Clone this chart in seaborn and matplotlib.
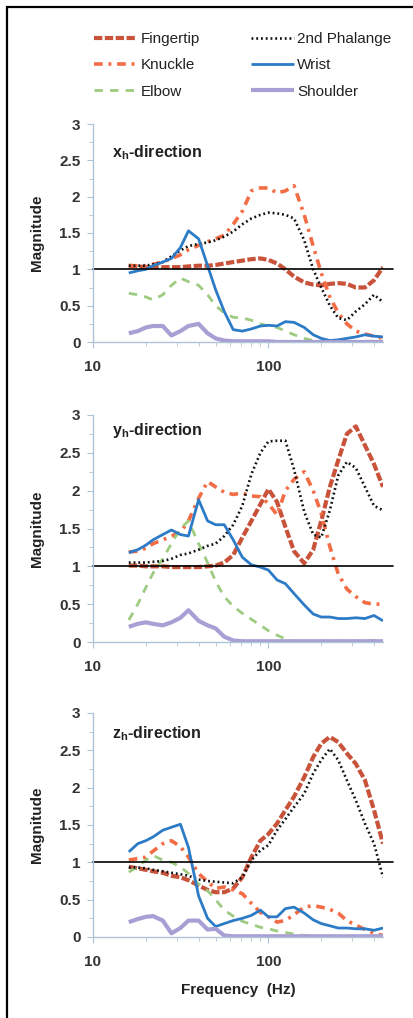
import numpy as np
import pandas as pd
import matplotlib
matplotlib.use('Agg')
import matplotlib.pyplot as plt
import seaborn as sns
from matplotlib.ticker import AutoMinorLocator, NullFormatter
from matplotlib.patches import Rectangle

# frequencies (Hz)
freq = [16, 18, 20, 22, 25, 28, 31.5, 35, 40, 45, 50, 56, 63, 71, 80, 90, 100,
        112, 125, 140, 160, 180, 200, 224, 250, 280, 315, 355, 400, 450]

# x_h-direction
x_fingertip = [1.05, 1.04, 1.03, 1.03, 1.03, 1.03, 1.03, 1.04, 1.05, 1.05, 1.06, 1.08, 1.10, 1.12, 1.14,
               1.15, 1.13, 1.08, 1.00, 0.90, 0.82, 0.79, 0.78, 0.80, 0.81, 0.80, 0.75, 0.75, 0.85, 1.03]
x_knuckle = [1.05, 1.05, 1.05, 1.07, 1.10, 1.15, 1.20, 1.27, 1.33, 1.38, 1.42, 1.47, 1.62, 1.80, 2.08,
             2.12, 2.12, 2.05, 2.08, 2.15, 1.75, 1.32, 0.95, 0.62, 0.40, 0.25, 0.15, 0.11, 0.08, 0.05]
x_elbow = [0.67, 0.65, 0.62, 0.58, 0.65, 0.78, 0.88, 0.83, 0.78, 0.65, 0.50, 0.40, 0.34, 0.33, 0.30,
           0.25, 0.22, 0.20, 0.15, 0.10, 0.05, 0.02, 0.01, 0.01, 0.01, 0.01, 0.01, 0.01, 0.01, 0.01]
x_phalange = [1.05, 1.05, 1.05, 1.07, 1.10, 1.18, 1.26, 1.32, 1.35, 1.37, 1.40, 1.45, 1.52, 1.62, 1.70,
              1.75, 1.78, 1.77, 1.75, 1.70, 1.40, 1.00, 0.75, 0.50, 0.33, 0.30, 0.42, 0.52, 0.65, 0.55]
x_wrist = [0.95, 0.98, 1.00, 1.05, 1.10, 1.15, 1.30, 1.53, 1.42, 1.05, 0.72, 0.42, 0.17, 0.15, 0.18,
           0.22, 0.23, 0.22, 0.28, 0.27, 0.20, 0.10, 0.05, 0.02, 0.03, 0.05, 0.07, 0.10, 0.08, 0.07]
x_shoulder = [0.12, 0.15, 0.20, 0.22, 0.22, 0.09, 0.15, 0.22, 0.25, 0.12, 0.05, 0.02, 0.01, 0.01, 0.01,
              0.01, 0.01, 0.0, 0.0, 0.0, 0.0, 0.0, 0.0, 0.0, 0.0, 0.0, 0.0, 0.0, 0.0, 0.0]

# y_h-direction
y_fingertip = [1.01, 1.01, 1.00, 1.00, 1.00, 0.99, 0.99, 0.99, 0.99, 1.00, 1.01, 1.05, 1.15, 1.38, 1.60,
               1.82, 2.02, 1.85, 1.52, 1.20, 1.04, 1.22, 1.60, 2.05, 2.40, 2.75, 2.85, 2.60, 2.35, 2.05]
y_knuckle = [1.19, 1.20, 1.24, 1.30, 1.35, 1.40, 1.45, 1.60, 1.90, 2.12, 2.05, 1.98, 1.95, 1.97, 1.93,
             1.92, 1.83, 1.68, 2.00, 2.15, 2.25, 2.00, 1.70, 1.26, 0.90, 0.70, 0.60, 0.52, 0.50, 0.50]
y_elbow = [0.29, 0.50, 0.72, 0.91, 1.10, 1.30, 1.50, 1.60, 1.30, 1.05, 0.80, 0.60, 0.47, 0.38, 0.30,
           0.22, 0.15, 0.09, 0.04, 0.01, 0.01, 0.01, 0.01, 0.01, 0.01, 0.01, 0.01, 0.02, 0.02, 0.01]
y_phalange = [1.05, 1.05, 1.05, 1.06, 1.07, 1.10, 1.15, 1.17, 1.22, 1.27, 1.30, 1.40, 1.55, 1.80, 2.22,
              2.50, 2.65, 2.66, 2.66, 2.28, 1.72, 1.42, 1.38, 1.74, 2.20, 2.38, 2.30, 2.05, 1.80, 1.74]
y_wrist = [1.18, 1.22, 1.28, 1.35, 1.42, 1.48, 1.42, 1.40, 1.88, 1.60, 1.55, 1.55, 1.35, 1.12, 1.02,
           0.99, 0.95, 0.82, 0.77, 0.64, 0.49, 0.37, 0.33, 0.33, 0.31, 0.31, 0.32, 0.31, 0.35, 0.28]
y_shoulder = [0.20, 0.24, 0.26, 0.24, 0.22, 0.26, 0.32, 0.42, 0.28, 0.22, 0.18, 0.07, 0.02, 0.01, 0.01,
              0.01, 0.01, 0.01, 0.01, 0.01, 0.01, 0.01, 0.01, 0.01, 0.01, 0.01, 0.01, 0.01, 0.01, 0.01]

# z_h-direction
z_fingertip = [0.94, 0.92, 0.90, 0.88, 0.86, 0.82, 0.80, 0.76, 0.69, 0.63, 0.60, 0.60, 0.65, 0.80, 1.07,
               1.29, 1.38, 1.52, 1.70, 1.88, 2.14, 2.41, 2.59, 2.68, 2.61, 2.46, 2.32, 2.10, 1.70, 1.25]
z_knuckle = [1.03, 1.05, 1.07, 1.15, 1.25, 1.29, 1.21, 1.07, 0.85, 0.74, 0.65, 0.67, 0.63, 0.58, 0.45,
             0.33, 0.27, 0.20, 0.22, 0.30, 0.40, 0.42, 0.40, 0.37, 0.32, 0.22, 0.16, 0.10, 0.05, 0.02]
z_elbow = [0.87, 0.94, 1.03, 1.09, 1.03, 1.00, 0.94, 0.85, 0.71, 0.62, 0.50, 0.36, 0.28, 0.21, 0.17,
           0.13, 0.11, 0.08, 0.06, 0.04, 0.02, 0.01, 0.01, 0.01, 0.01, 0.01, 0.01, 0.01, 0.01, 0.01]
z_phalange = [0.93, 0.93, 0.92, 0.90, 0.88, 0.86, 0.84, 0.82, 0.77, 0.75, 0.74, 0.73, 0.72, 0.80, 1.03,
              1.16, 1.23, 1.43, 1.58, 1.74, 1.92, 2.19, 2.37, 2.52, 2.37, 2.10, 1.83, 1.52, 1.25, 0.80]
z_wrist = [1.14, 1.25, 1.29, 1.34, 1.43, 1.47, 1.51, 1.20, 0.55, 0.25, 0.14, 0.18, 0.22, 0.25, 0.29,
           0.36, 0.27, 0.27, 0.38, 0.40, 0.32, 0.23, 0.18, 0.15, 0.12, 0.12, 0.11, 0.11, 0.09, 0.12]
z_shoulder = [0.20, 0.24, 0.27, 0.28, 0.22, 0.05, 0.12, 0.22, 0.22, 0.10, 0.11, 0.02, 0.01, 0.01, 0.01,
              0.01, 0.01, 0.01, 0.01, 0.01, 0.01, 0.01, 0.01, 0.01, 0.01, 0.01, 0.01, 0.01, 0.01, 0.01]

names = ['Fingertip', 'Knuckle', 'Elbow', '2nd Phalange', 'Wrist', 'Shoulder']
panels = [
    (r'$\mathbf{x_h}$-direction', [x_fingertip, x_knuckle, x_elbow, x_phalange, x_wrist, x_shoulder]),
    (r'$\mathbf{y_h}$-direction', [y_fingertip, y_knuckle, y_elbow, y_phalange, y_wrist, y_shoulder]),
    (r'$\mathbf{z_h}$-direction', [z_fingertip, z_knuckle, z_elbow, z_phalange, z_wrist, z_shoulder]),
]

styles = {
    'Fingertip': dict(color='#C9533A', lw=3.0, ls=(0, (2.0, 0.6))),
    'Knuckle': dict(color='#F26C45', lw=2.6, ls=(0, (2.4, 1.6, 0.8, 1.6))),
    'Elbow': dict(color='#9DCB80', lw=2.0, ls=(0, (3.0, 2.6))),
    '2nd Phalange': dict(color='#111111', lw=1.9, ls=(0, (0.7, 1.1))),
    'Wrist': dict(color='#2C7BC6', lw=2.0, ls='-'),
    'Shoulder': dict(color='#A8A0D4', lw=3.0, ls='-'),
}

sns.set_style('ticks')
plt.rcParams['font.family'] = ['Liberation Sans', 'DejaVu Sans']
plt.rcParams['mathtext.fontset'] = 'custom'
plt.rcParams['mathtext.bf'] = 'Liberation Sans:bold'
plt.rcParams['mathtext.rm'] = 'Liberation Sans'

axis_col = '#AFC3D6'
text_col = '#333333'

fig = plt.figure(figsize=(4.14, 10.18), dpi=100)
W, H = 414, 1018
boxes = [(124, 342), (415, 642), (713, 937)]
title_y = [0.87, 0.93, 0.91]

handles = []
for i, ((title, series), (top, bot)) in enumerate(zip(panels, boxes)):
    ax = fig.add_axes([93 / W, 1 - bot / H, 290 / W, (bot - top) / H])
    for name, vals in zip(names, series):
        st = styles[name]
        df = pd.DataFrame({'freq': freq, 'mag': vals})
        sns.lineplot(data=df, x='freq', y='mag', ax=ax, color=st['color'], lw=st['lw'],
                     linestyle=st['ls'], label=name, legend=False, solid_capstyle='butt',
                     dash_capstyle='butt')
    if i == 0:
        handles = ax.get_lines()[:6]
    ax.axhline(1, xmin=0, xmax=(393 - 93) / 290, color='black', lw=1.2, clip_on=False)
    ax.set_xscale('log')
    ax.set_xlim(10, 450)
    ax.set_ylim(0, 3)
    ax.set_xticks([10, 100], labels=['10', '100'])
    ax.xaxis.set_minor_formatter(NullFormatter())
    ax.set_yticks([0, 0.5, 1, 1.5, 2, 2.5, 3], labels=['0', '0.5', '1', '1.5', '2', '2.5', '3'])
    ax.yaxis.set_minor_locator(AutoMinorLocator(2))
    for s in ['top', 'right']:
        ax.spines[s].set_visible(False)
    for s in ['left', 'bottom']:
        ax.spines[s].set_color(axis_col)
        ax.spines[s].set_linewidth(1.0)
    ax.tick_params(axis='both', which='both', color=axis_col, labelcolor=text_col,
                   labelsize=11, direction='out')
    ax.tick_params(axis='y', which='major', length=4, pad=5)
    ax.tick_params(axis='y', which='minor', length=3)
    ax.tick_params(axis='x', which='major', length=4, pad=9)
    ax.tick_params(axis='x', which='minor', length=3)
    for lab in ax.get_xticklabels() + ax.get_yticklabels():
        lab.set_fontweight('bold')
    ax.set_xlabel('')
    ax.set_ylabel('Magnitude', fontsize=11, fontweight='bold', color='#222222', labelpad=11)
    ax.text(0.066, title_y[i], title, transform=ax.transAxes, fontsize=11.5,
            fontweight='bold', color='#222222', va='center', ha='left')
    if i == 2:
        ax.set_xlabel('Frequency  (Hz)', fontsize=11, fontweight='bold', color='#222222',
                      labelpad=10)

fig.legend(handles, names, ncol=2, loc='upper left', bbox_to_anchor=(0.195, 0.982),
           frameon=False, fontsize=11, handlelength=2.8, handletextpad=0.25,
           columnspacing=3.3, labelspacing=0.8, labelcolor='#222222')

fig.patches.append(Rectangle((7 / W, -0.05), 2.0, 1 - 7 / H + 0.05, transform=fig.transFigure,
                             fill=False, ec='black', lw=1.6))

fig.savefig('out.png', dpi=100, facecolor='white')
